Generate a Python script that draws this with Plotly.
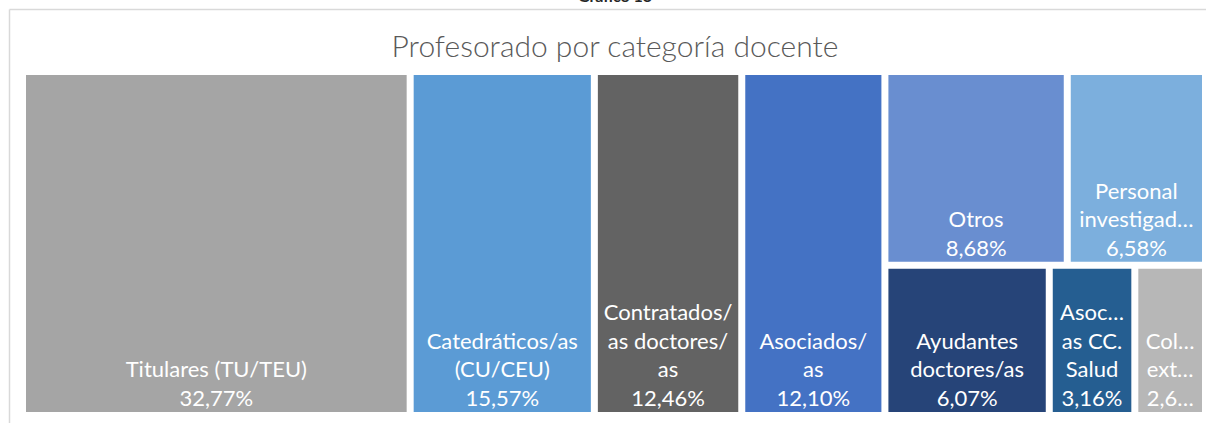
import plotly.graph_objects as go

# ---- data ----
categories = [
    "Titulares (TU/TEU)",
    "Catedráticos/as<br>(CU/CEU)",
    "Contratados/<br>as doctores/<br>as",
    "Asociados/<br>as",
    "Otros",
    "Personal<br>investigad…",
    "Ayudantes<br>doctores/as",
    "Asoc…<br>as CC.<br>Salud",
    "Col…<br>ext…",
]
values = [32.77, 15.57, 12.46, 12.10, 8.68, 6.58, 6.07, 3.16, 2.61]
value_labels = ["32,77%", "15,57%", "12,46%", "12,10%", "8,68%", "6,58%",
                "6,07%", "3,16%", "2,6…"]
colors = ["#A5A5A5", "#5B9BD5", "#636363", "#4472C4", "#698ED0",
          "#7CAFDD", "#264478", "#255E91", "#B7B7B7"]
# layout groups used by Excel's tiling (first four alone, rest in two rows)
group_of = ["", "", "", "", "G1", "G1", "G2", "G2", "G2"]

# ---- hierarchy ----
ids, parents, labels, vals, texts, cols = [], [], [], [], [], []


def add(i_d, parent, label, val, text, col):
    ids.append(i_d)
    parents.append(parent)
    labels.append(label)
    vals.append(val)
    texts.append(text)
    cols.append(col)


for i in range(4):
    add(f"n{i}", "", categories[i], values[i],
        f"{categories[i]}<br>{value_labels[i]}", colors[i])
add("G", "", "", 0, "", "#FFFFFF")
add("G1", "G", "", 0, "", "#FFFFFF")
add("G2", "G", "", 0, "", "#FFFFFF")
for i in range(4, len(categories)):
    add(f"n{i}", group_of[i], categories[i], values[i],
        f"{categories[i]}<br>{value_labels[i]}", colors[i])

W, H = 1206, 423
fig = go.Figure(go.Treemap(
    ids=ids, parents=parents, labels=labels, values=vals,
    branchvalues="remainder", sort=False,
    text=texts, textinfo="text",
    textposition="bottom center",
    textfont=dict(family="Lato", size=22, color="white"),
    marker=dict(colors=cols, line=dict(color="white", width=4),
                pad=dict(t=0, l=0, r=0, b=0)),
    tiling=dict(packing="slice-dice"),
    pathbar=dict(visible=False),
    domain=dict(x=[24 / W, 1204 / W], y=[(H - 414) / H, (H - 73) / H]),
    hoverinfo="none",
))

fig.update_layout(
    width=W, height=H,
    margin=dict(l=0, r=0, t=0, b=0),
    paper_bgcolor="white",
    title=dict(text="Profesorado por categoría docente",
               font=dict(family="Lato", size=30, color="#595959", weight=300),
               x=615 / W, xanchor="center", y=1 - 46 / H, yanchor="middle",
               xref="paper", yref="container"),
    shapes=[
        dict(type="line", xref="paper", yref="paper", x0=9.5 / W, x1=1, y0=1 - 9.5 / H, y1=1 - 9.5 / H,
             line=dict(color="#D9D9D9", width=1.5)),
        dict(type="line", xref="paper", yref="paper", x0=9.5 / W, x1=9.5 / W, y0=0, y1=1 - 9.5 / H,
             line=dict(color="#D9D9D9", width=1.5)),
    ],
    annotations=[
        dict(text="<b>Gráfico 13</b>", xref="paper", yref="paper", x=615 / W, y=1 - 7 / H,
             xanchor="center", yanchor="bottom", showarrow=False,
             font=dict(family="Lato", size=16, color="#262626")),
    ],
)

fig.write_html("out.html", config={"displayModeBar": False},
               post_script="document.body.style.margin='0';")
